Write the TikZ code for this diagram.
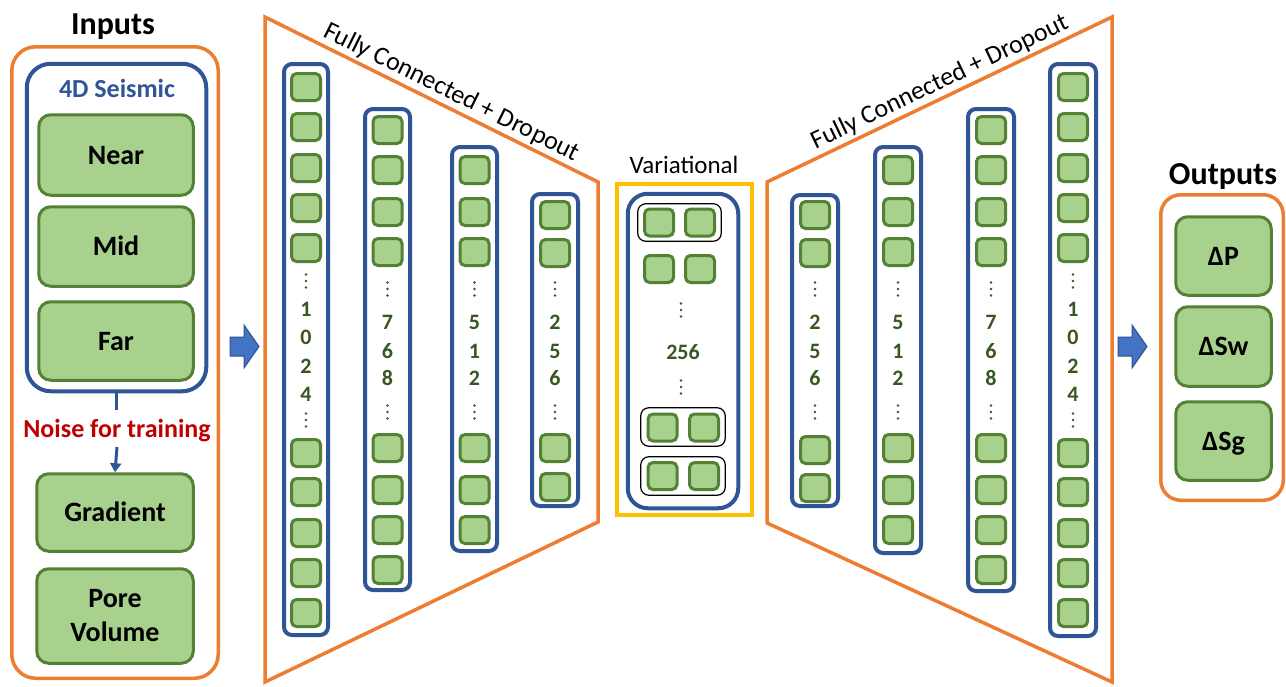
\documentclass[tikz,border=0pt]{standalone}
\usepackage{fontspec}
\setmainfont{Carlito}
\usetikzlibrary{arrows.meta}
\definecolor{orng}{HTML}{ED7D31}
\definecolor{dblue}{HTML}{2F5597}
\definecolor{gfill}{HTML}{A9D18E}
\definecolor{gline}{HTML}{548235}
\definecolor{dgreen}{HTML}{385723}
\definecolor{nred}{HTML}{C00000}
\definecolor{yel}{HTML}{FFC000}
\definecolor{abl}{HTML}{4472C4}
\definecolor{ablb}{HTML}{2F528F}
\tikzset{
  obox/.style={draw=orng, line width=3.5pt, rounded corners=24pt, inner sep=0pt},
  bbox/.style={draw=dblue, line width=4pt, rounded corners=24pt, inner sep=0pt},
  gbox/.style={draw=gline, fill=gfill, line width=3pt, rounded corners=12pt, inner sep=0pt,
    font=\fontsize{28}{34}\selectfont\bfseries},
  colbox/.style={draw=dblue, line width=4pt, rounded corners=8pt, inner sep=0pt},
  sq/.style={draw=gline, fill=gfill, line width=3pt, rounded corners=5pt, inner sep=0pt,
    minimum width=29pt, minimum height=27pt},
  pairbox/.style={draw=black, line width=1.2pt, rounded corners=8pt, inner sep=0pt},
  ybox/.style={draw=yel, line width=4pt, inner sep=0pt},
  digit/.style={text=dgreen, font=\fontsize{22}{26}\selectfont\bfseries, inner sep=0pt,
    text height=14pt, text depth=0pt},
  title/.style={font=\fontsize{32}{38}\selectfont\bfseries, inner sep=0pt, anchor=base},
  fclabel/.style={font=\fontsize{26}{30}\selectfont, inner sep=0pt},
  trap/.style={draw=orng, line width=3.5pt, line join=miter},
  blockarrow/.style={fill=abl, draw=ablb, line width=1pt},
}
\newcommand{\rb}[7]{\node[#2, minimum width={#5-#3-3.5}, minimum height={#6-#4-3.5}] (#1) at ({(#3+#5)/2},{(#4+#6)/2}) {#7};}
\newcommand{\nncol}[9]{%
  \node[colbox, minimum width={#3-#2-4}, minimum height={#5-#4-4}] (#1) at ({(#2+#3)/2},{(#4+#5)/2}) {};
  \foreach \t [count=\k] in {#6} {\node[sq] (#1t\k) at ({(#2+#3)/2},{\t+15}) {};}
  \foreach \t [count=\k] in {#7} {\node[sq] (#1b\k) at ({(#2+#3)/2},{\t+15}) {};}
  \foreach \d/\y [count=\k] in {#8} {\node[digit] (#1d\k) at ({(#2+#3)/2},\y) {\d};}
  \foreach \y in {#9} {\fill[dgreen] ({(#2+#3)/2},{\y-6.5}) circle (1.4pt) ({(#2+#3)/2},\y) circle (1.4pt) ({(#2+#3)/2},{\y+6.5}) circle (1.4pt);}
}
\begin{document}
\begin{tikzpicture}[x=1pt,y=-1pt]
\useasboundingbox[fill=white] (0,0) rectangle (1286,686);

% ---------- Inputs ----------
\node[title] (inputs) at (113,34) {Inputs};
\rb{inbox}{obox}{10}{45}{220}{680}{}
\rb{seis}{bbox}{25}{62}{208}{393}{}
\node[text=dblue, font=\fontsize{26}{30}\selectfont\bfseries, inner sep=0pt, anchor=base] (seistitle) at (117,97) {4D Seismic};
\rb{near}{gbox, text height=18pt, text depth=0pt}{37}{113}{195}{197}{Near}
\rb{mid}{gbox, text height=18pt, text depth=0pt}{37}{205}{195}{288}{Mid}
\rb{far}{gbox, text height=18pt, text depth=0pt}{37}{300}{195}{382}{Far}
\node[text=nred, font=\fontsize{26}{30}\selectfont\bfseries, inner sep=0pt, anchor=base] (noise) at (117,437) {Noise for training};
\rb{grad}{gbox, text height=18pt, text depth=0pt}{35}{472}{195}{553}{Gradient}
\rb{pore}{gbox, align=center}{35}{567}{195}{665}{Pore\\Volume}
\draw[dblue, line width=3pt] (seis.south) -- ++(0,17);
\coordinate (arrstart) at (117,447);
\draw[dblue, line width=3pt, -{Triangle[length=9pt,width=11pt]}] (arrstart) -- (grad.north);

% block arrow left
\draw[blockarrow] (230,337) -- (244,337) -- (244,325) -- (259,346.5) -- (244,368) -- (244,356) -- (230,356) -- cycle;

% ---------- Encoder ----------
\draw[trap] (265,17) -- (598,182) -- (598,522) -- (265,682) -- cycle;
\path (265,17) -- (598,182) node[fclabel, pos=0.54, sloped, above=4pt] (fcenc) {Fully Connected + Dropout};

\nncol{E1}{282}{330}{62}{637}{72,112,153,193,233}{438,477,518,558,598}{1/309,0/337,2/366,4/394}{281,420}
\nncol{E2}{363}{412}{107}{592}{115,155,197,237}{433,475,515,555}{7/322,6/351,8/378}{289,412}
\nncol{E3}{450}{499}{145}{553}{155,197,237}{433,475,515}{5/322,1/351,2/378}{289,412}
\nncol{E4}{530}{580}{192}{508}{200,238}{433,472}{2/322,5/351,6/378}{289,412}

% ---------- Variational ----------
\node[fclabel, font=\fontsize{25}{30}\selectfont, anchor=base] (vartitle) at (684,173) {Variational};
\rb{var}{ybox}{615}{182}{754}{517}{}
\rb{varin}{bbox, rounded corners=20pt}{626}{192}{740}{510}{}
\rb{p1}{pairbox}{636}{202}{723}{243}{}
\rb{p3}{pairbox}{639}{406}{727}{448}{}
\rb{p4}{pairbox}{639}{455}{727}{497}{}
\node[sq] (v1a) at (659,222.5) {};
\node[sq] (v1b) at (700,222.5) {};
\node[sq] (v2a) at (659,269) {};
\node[sq] (v2b) at (700,269) {};
\node[sq] (v3a) at (662.5,427.5) {};
\node[sq] (v3b) at (704,427.5) {};
\node[sq] (v4a) at (662.5,476) {};
\node[sq] (v4b) at (704,476) {};
\node[digit] (v256) at (683,352) {256};
\foreach \y in {310,387} {\fill[dgreen] (681,{\y-6.5}) circle (1.4pt) (681,\y) circle (1.4pt) (681,{\y+6.5}) circle (1.4pt);}

% ---------- Decoder ----------
\draw[trap] (767,182) -- (1112,17) -- (1112,682) -- (767,523) -- cycle;
\path (767,182) -- (1112,17) node[fclabel, pos=0.52, sloped, above=4pt] (fcdec) {Fully Connected + Dropout};

\nncol{D1}{790}{840}{193}{508}{200,238}{435,473}{2/322,5/351,6/378}{289,412}
\nncol{D2}{873}{923}{145}{555}{155,197,237}{433,475,515}{5/322,1/351,2/378}{289,412}
\nncol{D3}{966}{1016}{107}{593}{115,155,197,237}{433,475,515,555}{7/322,6/351,8/378}{289,412}
\nncol{D4}{1048}{1098}{62}{638}{72,112,153,193,233}{438,477,518,558,598}{1/309,0/337,2/366,4/394}{281,420}

% block arrow right
\draw[blockarrow] (1118,337) -- (1132,337) -- (1132,325) -- (1147,346.5) -- (1132,368) -- (1132,356) -- (1118,356) -- cycle;

% ---------- Outputs ----------
\node[title] (outputs) at (1223,184) {Outputs};
\rb{outbox}{obox, rounded corners=20pt}{1159}{193}{1285}{502}{}
\rb{dp}{gbox, text height=18pt, text depth=0pt}{1174}{215}{1273}{297}{ΔP}
\rb{dsw}{gbox, text height=18pt, text depth=0pt}{1174}{305}{1273}{388}{ΔSw}
\rb{dsg}{gbox, text height=18pt, text depth=0pt}{1174}{400}{1273}{482}{ΔSg}
\end{tikzpicture}
\end{document}
